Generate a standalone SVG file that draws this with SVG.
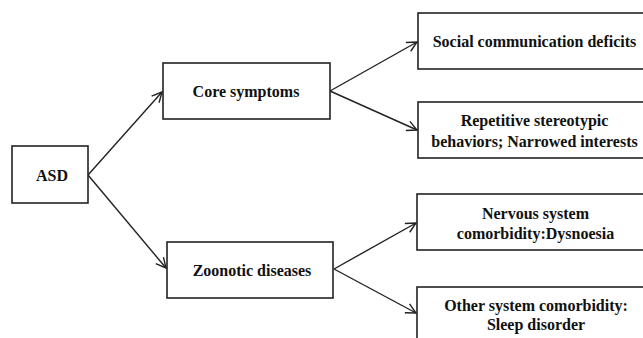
<svg xmlns="http://www.w3.org/2000/svg" width="643" height="338" viewBox="0 0 643 338">
<defs>
<style>
.box{fill:#fff;stroke:#222;stroke-width:1.6}
.t{font-family:'Liberation Serif','Times New Roman',Tinos,'DejaVu Serif',serif;font-weight:bold;font-size:16px;fill:#111;text-anchor:middle}
.c{stroke:#222;stroke-width:1.4;fill:none;marker-end:url(#ah)}
</style>
<marker id="ah" viewBox="0 0 12 12" refX="11" refY="6" markerWidth="12" markerHeight="12" markerUnits="userSpaceOnUse" orient="auto">
<path d="M1,1 L11,6 L1,11" fill="none" stroke="#222" stroke-width="1.4"/>
</marker>
</defs>
<rect width="643" height="338" fill="#fff"/>
<g id="connectors">
<line class="c" x1="88" y1="175" x2="162" y2="92"/>
<line class="c" x1="88" y1="175" x2="166" y2="268"/>
<line class="c" x1="330" y1="91" x2="417" y2="42"/>
<line class="c" x1="330" y1="91" x2="417" y2="130"/>
<line class="c" x1="334" y1="269" x2="416" y2="223"/>
<line class="c" x1="334" y1="269" x2="416" y2="313"/>
</g>
<g id="asd">
<rect class="box" x="12" y="146" width="76" height="57"/>
<text class="t" font-family="Liberation Serif, serif" x="52" y="181">ASD</text>
</g>
<g id="core">
<rect class="box" x="163" y="63" width="167" height="56"/>
<text class="t" font-family="Liberation Serif, serif" x="246" y="97">Core symptoms</text>
</g>
<g id="zoonotic">
<rect class="box" x="167" y="242" width="166" height="56"/>
<text class="t" font-family="Liberation Serif, serif" x="252" y="276">Zoonotic diseases</text>
</g>
<g id="social">
<rect class="box" x="418" y="13" width="233" height="56"/>
<text class="t" font-family="Liberation Serif, serif" x="534.5" y="47">Social communication deficits</text>
</g>
<g id="repetitive">
<rect class="box" x="418" y="102" width="233" height="56"/>
<text class="t" font-family="Liberation Serif, serif" x="534.5" y="126">Repetitive stereotypic</text>
<text class="t" font-family="Liberation Serif, serif" x="534.5" y="146.5">behaviors; Narrowed interests</text>
</g>
<g id="nervous">
<rect class="box" x="417" y="194" width="234" height="56"/>
<text class="t" font-family="Liberation Serif, serif" x="535.5" y="218.5">Nervous system</text>
<text class="t" font-family="Liberation Serif, serif" x="535.5" y="238.5">comorbidity:Dysnoesia</text>
</g>
<g id="other">
<rect class="box" x="417" y="287" width="234" height="60"/>
<text class="t" font-family="Liberation Serif, serif" x="536" y="311">Other system comorbidity:</text>
<text class="t" font-family="Liberation Serif, serif" x="536" y="329.5">Sleep disorder</text>
</g>
</svg>
